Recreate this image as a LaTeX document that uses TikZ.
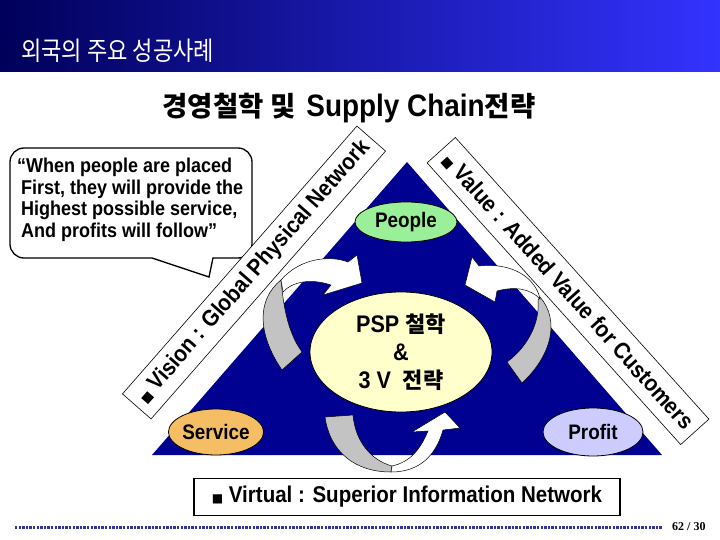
\documentclass[tikz,border=0pt]{standalone}
\usepackage{fontspec}
\setmainfont[FakeStretch=0.9]{Liberation Sans}
\newfontfamily\kr{Noto Sans CJK KR}
\newfontfamily\krn[FakeStretch=0.85]{Noto Sans CJK KR}
\newfontfamily\sym{DejaVu Sans}
\newfontfamily\serifb{Liberation Serif}
\usetikzlibrary{shapes.geometric}
\definecolor{navy}{RGB}{0,0,145}
\definecolor{hdleft}{RGB}{0,0,90}
\definecolor{hdright}{RGB}{51,51,255}
\definecolor{peoplec}{RGB}{153,240,153}
\definecolor{pspc}{RGB}{255,255,204}
\definecolor{servc}{RGB}{245,190,100}
\definecolor{profc}{RGB}{204,204,255}
\definecolor{arrgray}{RGB}{195,195,195}
\definecolor{dotc}{RGB}{51,51,153}
\newcommand\fsz[2]{\fontsize{#1}{#2}\selectfont}
\newcommand\sqm{{\sym\fsz{12}{12}■}}
\tikzset{
  band/.style={draw=black, line width=0.6, fill=white, inner sep=0, font=\bfseries\fsz{23}{26}},
  oval/.style={ellipse, draw=black, line width=0.8, inner sep=0, font=\bfseries\fsz{21}{24}},
  grayside/.style={fill=arrgray, draw=black, line width=0.5},
  whiteside/.style={fill=white, draw=black, line width=0.5},
}
\begin{document}
\begin{tikzpicture}[x=1pt,y=-1pt]
\useasboundingbox (0,0) rectangle (720,540);
\fill[white] (0,0) rectangle (720,540);
% header
\shade[left color=hdleft, right color=hdright] (0,0) rectangle (720,72);
\node[anchor=west, text=white, inner sep=0] (title) at (21,51) {\krn\fsz{26}{28}외국의 주요 성공사례};
% subtitle
\node[inner sep=0, font=\bfseries\fsz{31}{34}] (sub) at (349,108) {{\kr\fsz{27.5}{30}경영철학 및}\hspace{11pt}Supply Chain{\kr\fsz{27.5}{30}전략}};
% quote bubble
\draw[line width=1.3, fill=white] (152,258) [rounded corners=14] -- (10,258) -- (10,148) -- (252,148) -- (252,258) -- (232,258) [sharp corners] -- (213,258) -- (209,277) -- cycle;
\node[anchor=north west, align=left, inner sep=0, font=\bfseries\fsz{20}{21.5}] (quote) at (17,158)
  {“When people are placed\\\hspace*{4pt}First, they will provide the\\\hspace*{4pt}Highest possible service,\\\hspace*{4pt}And profits will follow”};
% bands
\node[band, rotate=48.8, minimum width=356, minimum height=38] (vision) at (254,272.5) {\sqm\ Vision : Global Physical Network};
\node[band, rotate=-48, minimum width=379, minimum height=38] (value) at (568,291) {\sqm\ Value : Added Value for Customers};
% triangle
\fill[navy] (407,162) -- (662,455) -- (152,455) -- cycle;
% ellipses
\node[oval, fill=peoplec, minimum width=102, minimum height=40] (people) at (406,222) {People};
\node[oval, fill=pspc, minimum width=182, minimum height=120, align=center, font=\bfseries\fsz{24}{28}] (psp) at (401,352) {PSP {\kr\fsz{22}{28}철학}\\\&\\3 V\ \ {\kr\fsz{22}{28}전략}};
\node[oval, fill=servc, minimum width=88, minimum height=46] (service) at (216,432) {Service};
\node[oval, fill=profc, minimum width=100, minimum height=48] (profit) at (593,432) {Profit};
% left curved arrow
\path[grayside] (282,370) .. controls (258,335) and (256,300) .. (281,280) .. controls (283,300) and (286,330) .. (302,352) -- cycle;
\path[whiteside] (281,280) .. controls (300,258) and (330,255) .. (348,262) -- (357,255) -- (362,283) -- (323,295) -- (331,285) .. controls (310,278) and (292,282) .. (283,292) -- cycle;
% right curved arrow
\path[grayside] (540,297) .. controls (560,320) and (552,355) .. (522,383) -- (507,362) .. controls (530,345) and (540,320) .. (538,300) -- cycle;
\path[whiteside] (540,299) .. controls (536,278) and (512,262) .. (479,266) -- (472,257) -- (465,285) -- (495,302) -- (497,291) .. controls (515,286) and (531,289) .. (540,299) -- cycle;
% bottom curved arrow
\path[grayside] (325,417) .. controls (330,452) and (355,472) .. (391,472) -- (392,466) .. controls (370,460) and (355,440) .. (353,415) -- cycle;
\path[whiteside] (391,472) .. controls (420,472) and (436,455) .. (443,430) -- (460,428) -- (445,412) -- (412,432) -- (428,431) .. controls (420,450) and (410,462) .. (392,466) -- cycle;
% bottom box
\node[draw=black, line width=1.3, minimum width=426, minimum height=37, inner sep=0, font=\bfseries\fsz{22.8}{25}] (virtual) at (407,497) {\sqm\ Virtual : Superior Information Network};
% footer
\draw[dotc, line width=3, dash pattern=on 2.3 off 1.3] (15,527) -- (662,527);
\node[anchor=west, inner sep=0, font=\serifb\bfseries\fsz{12}{14}] (page) at (672,527) {62 / 30};
\end{tikzpicture}
\end{document}
